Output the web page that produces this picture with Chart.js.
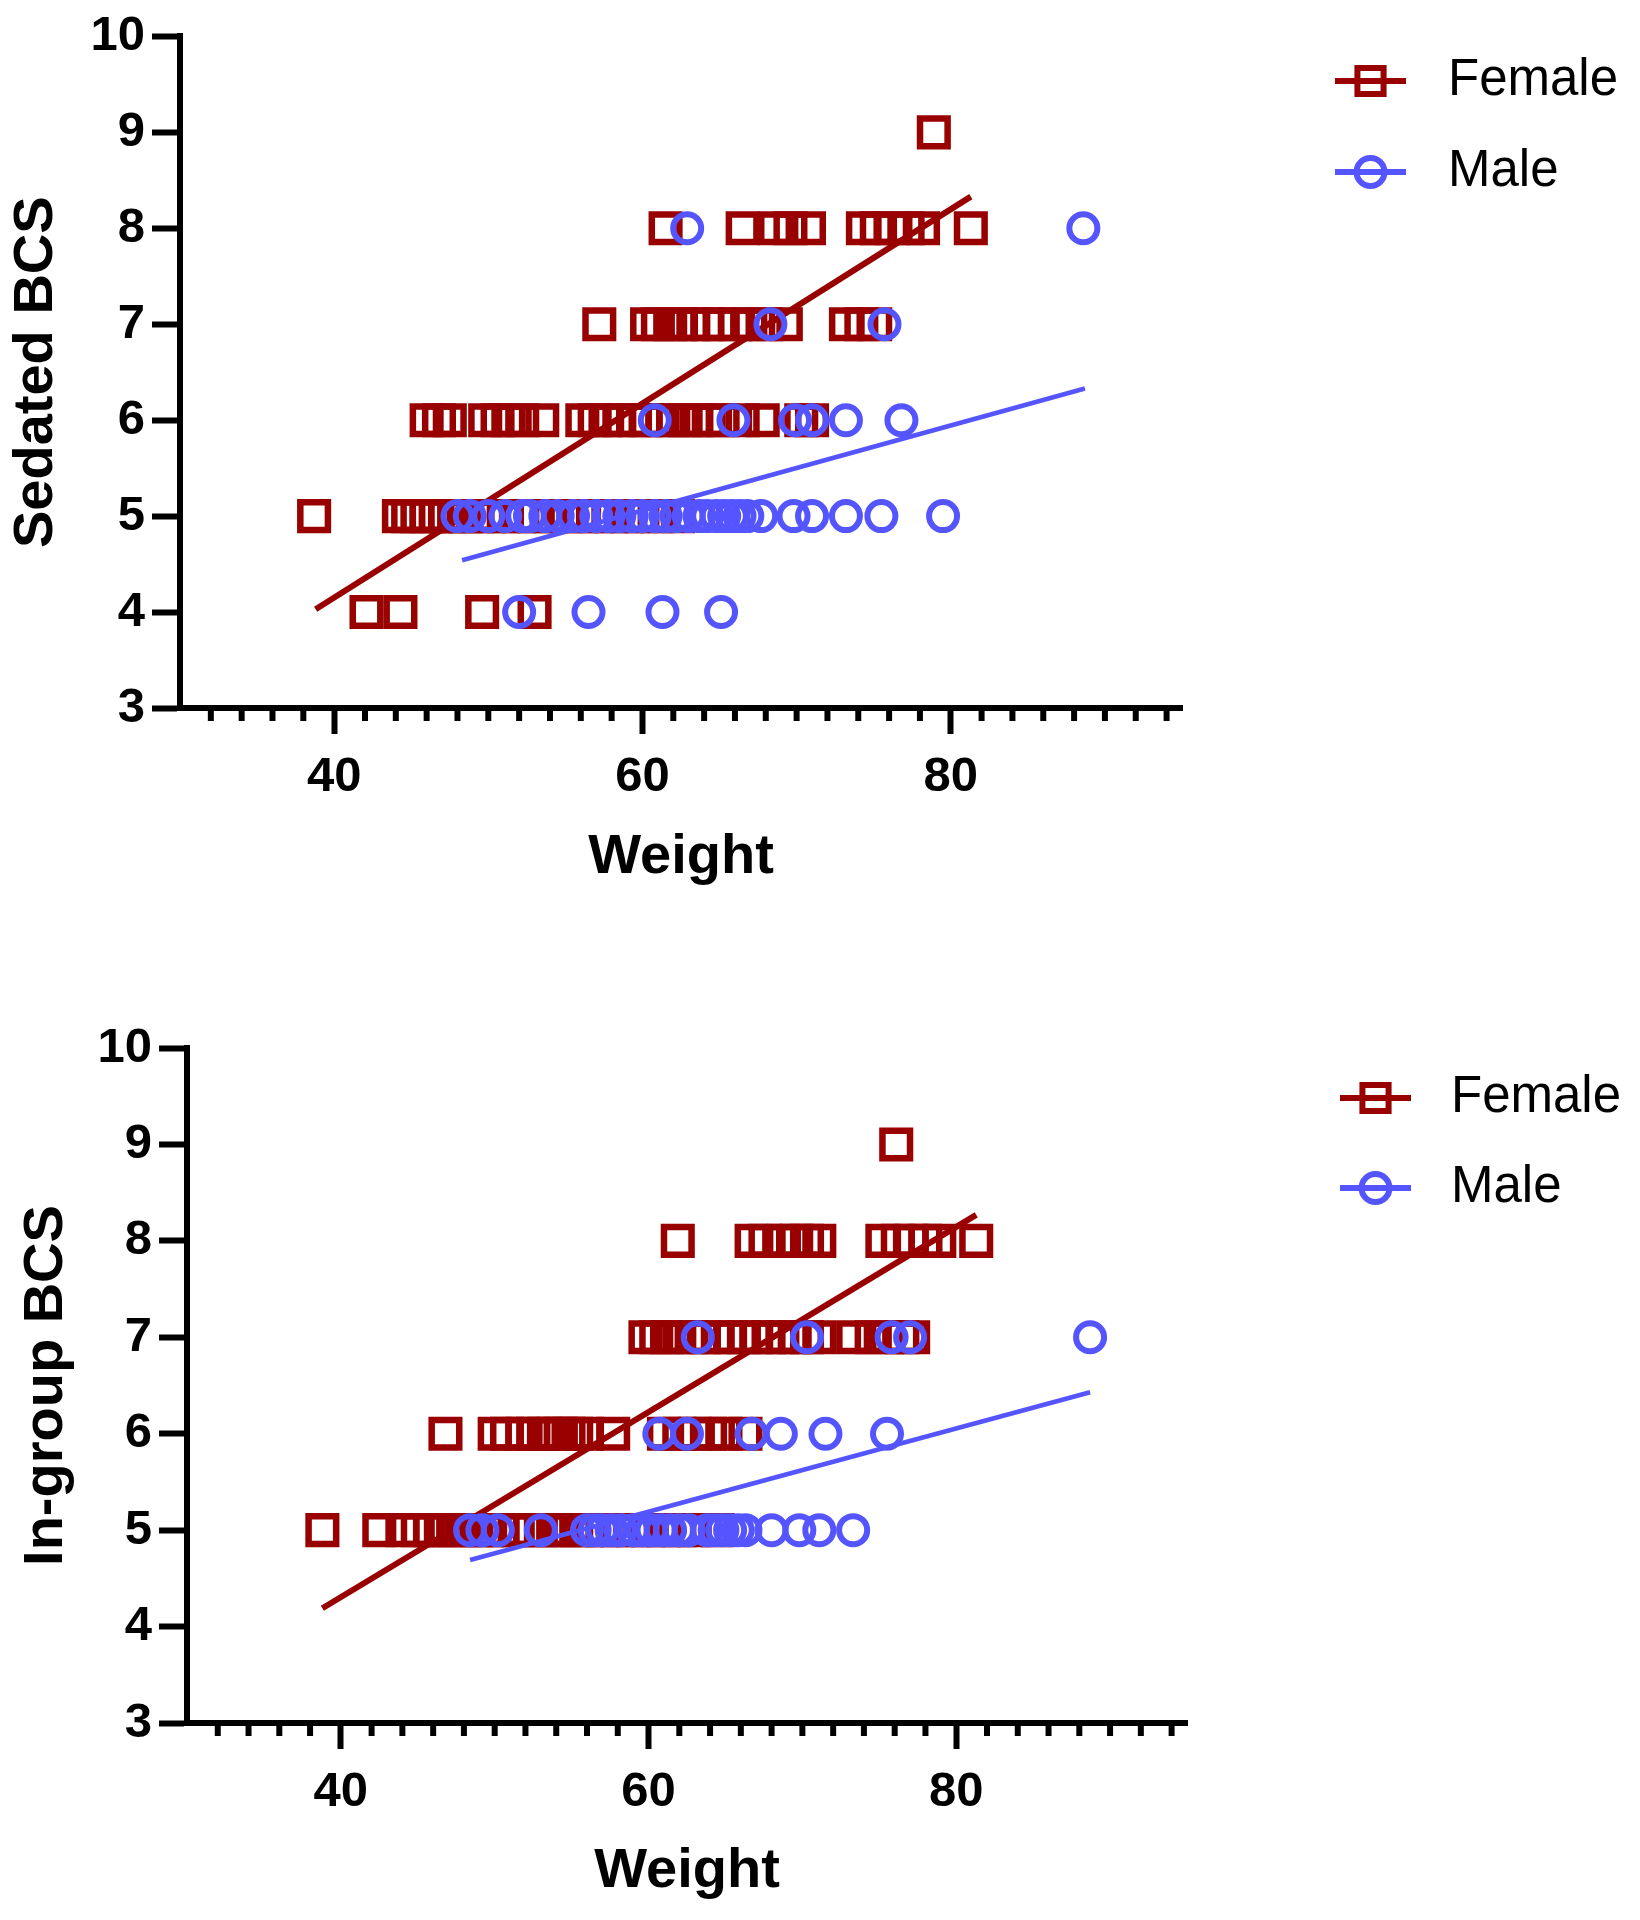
<!DOCTYPE html>
<html>
<head>
<meta charset="utf-8">
<script src="https://cdn.jsdelivr.net/npm/chart.js@4.4.1/dist/chart.umd.min.js"></script>
<style>
  html, body { margin: 0; padding: 0; background: #fff; }
  .panel { width: 1640px; height: 960px; }
</style>
</head>
<body>
<div class="panel"><canvas id="sedated" width="1640" height="960"></canvas></div>
<div class="panel"><canvas id="ingroup" width="1640" height="960"></canvas></div>
<script>
// BCS rows, one weight list per score
const bcsLevels = [4, 5, 6, 7, 8, 9];

const sedatedFemale = [
  [42.1, 44.3, 49.6, 53.0],
  [38.7, 44.2, 44.8, 45.4, 46.0, 46.6, 47.2, 47.8, 48.5, 49.3, 50.0, 51.0, 52.0, 53.0, 54.0, 55.0, 56.0, 57.0, 58.0, 59.0, 60.0, 61.0, 62.3],
  [46.0, 46.8, 47.5, 49.8, 50.6, 51.3, 52.2, 53.5, 56.1, 56.9, 57.6, 58.5, 59.5, 60.2, 61.3, 62.0, 62.8, 63.5, 64.3, 65.2, 66.5, 67.8, 70.3, 71.0],
  [57.2, 60.3, 61.0, 61.8, 62.5, 63.3, 64.2, 65.0, 66.0, 67.0, 68.0, 69.3, 73.2, 74.2, 75.1],
  [61.5, 66.5, 68.6, 69.6, 70.8, 74.3, 75.2, 76.2, 77.2, 78.2, 81.3],
  [78.9]
];
const sedatedMale = [
  [52.0, 56.5, 61.3, 65.1],
  [48.0, 48.8, 50.0, 51.1, 52.2, 52.7, 53.7, 54.5, 55.5, 56.2, 57.0, 57.8, 58.5, 59.3, 60.0, 60.8, 61.5, 62.2, 63.0, 63.7, 64.2, 64.8, 65.3, 65.8, 66.3, 66.8, 67.7, 69.8, 71.0, 73.2, 75.5, 79.5],
  [60.8, 65.9, 69.9, 71.0, 73.2, 76.8],
  [68.3, 75.7],
  [62.9, 88.6],
  []
];
const ingroupFemale = [
  [],
  [38.8, 42.5, 44.0, 45.0, 45.8, 46.5, 47.3, 48.0, 48.8, 49.5, 50.5, 51.5, 52.3, 53.0, 53.8, 54.5, 55.3, 56.0, 57.0, 58.0, 59.0, 60.0, 61.0, 62.0, 63.0, 64.5],
  [46.8, 50.0, 50.8, 51.8, 52.5, 53.2, 53.8, 54.3, 54.8, 55.3, 56.0, 57.7, 61.0, 62.0, 63.0, 64.0, 65.0, 66.3],
  [59.8, 60.5, 61.2, 62.0, 62.8, 63.6, 64.5, 65.3, 66.2, 67.0, 67.8, 68.7, 69.5, 70.3, 71.1, 73.3, 74.5, 75.5, 76.5, 77.2],
  [61.9, 66.7, 67.6, 68.8, 69.6, 70.3, 71.1, 75.2, 76.2, 77.1, 78.0, 78.9, 81.3],
  [76.1]
];
const ingroupMale = [
  [],
  [48.4, 49.2, 50.2, 53.0, 56.0, 56.5, 57.0, 57.6, 58.2, 59.0, 59.6, 60.2, 60.8, 61.4, 62.0, 62.6, 63.8, 64.3, 64.8, 65.3, 65.8, 66.3, 68.0, 69.8, 71.1, 73.3],
  [60.7, 62.5, 66.7, 68.6, 71.5, 75.5],
  [63.2, 70.3, 75.8, 77.0, 88.7],
  [],
  []
];

// regression lines, [weight, bcs] at each end
const sedatedFemaleFit = [[38.8, 4.03], [81.3, 8.33]];
const sedatedMaleFit = [[48.3, 4.54], [88.7, 6.33]];
const ingroupFemaleFit = [[38.8, 4.19], [81.3, 8.27]];
const ingroupMaleFit = [[48.4, 4.69], [88.7, 6.43]];

const seriesNames = ['Female', 'Male'];
const xMajorTicks = [40, 60, 80];
const xMinorTicks = [32, 34, 36, 38, 42, 44, 46, 48, 50, 52, 54, 56, 58, 62, 64, 66, 68, 70, 72, 74, 76, 78, 82, 84, 86, 88, 90, 92, 94];

const femaleColor = '#990000';
const maleColor = '#5555ff';
const fontFamily = '"Liberation Sans", Arial, sans-serif';

Chart.defaults.font.family = fontFamily;
Chart.defaults.color = '#000';

function pointsFrom(rows) {
  const pts = [];
  rows.forEach((row, i) => row.forEach(w => pts.push({x: w, y: bcsLevels[i]})));
  return pts;
}
function lineFrom(fit) {
  return fit.map(p => ({x: p[0], y: p[1]}));
}

// short minor ticks on the weight axis
const minorTicks = {
  id: 'minorTicks',
  afterDraw(chart, args, opts) {
    const xs = chart.scales.x;
    const ctx = chart.ctx;
    ctx.save();
    ctx.strokeStyle = '#000';
    ctx.lineWidth = 6;
    opts.values.forEach(v => {
      const px = xs.getPixelForValue(v);
      ctx.beginPath();
      ctx.moveTo(px, xs.top);
      ctx.lineTo(px, xs.top + opts.length);
      ctx.stroke();
    });
    ctx.restore();
  }
};

// legend drawn as line + marker, like the original
const sideLegend = {
  id: 'sideLegend',
  afterDraw(chart, args, opts) {
    const ctx = chart.ctx;
    ctx.save();
    opts.items.forEach((it, i) => {
      const y = opts.y + i * opts.gap;
      ctx.strokeStyle = it.color;
      ctx.fillStyle = 'rgba(0,0,0,0)';
      ctx.lineWidth = 6;
      ctx.beginPath();
      ctx.moveTo(opts.x, y);
      ctx.lineTo(opts.x + opts.len, y);
      ctx.stroke();
      Chart.helpers.drawPoint(ctx, {pointStyle: it.style, radius: it.radius, borderWidth: 6, rotation: 0}, opts.x + opts.len / 2, y);
      ctx.fillStyle = '#000';
      ctx.font = '51px ' + fontFamily;
      ctx.textBaseline = 'middle';
      ctx.textAlign = 'left';
      ctx.fillText(it.label, opts.textX, y);
    });
    ctx.restore();
  }
};

function buildChart(id, yTitle, female, male, femaleFit, maleFit, frame) {
  new Chart(document.getElementById(id), {
    type: 'scatter',
    data: {
      datasets: [
        {label: seriesNames[1] + ' fit', data: lineFrom(maleFit), showLine: true, pointRadius: 0,
         borderColor: maleColor, borderWidth: 4.5, order: 0},
        {label: seriesNames[1], data: pointsFrom(male), pointStyle: 'circle', pointRadius: 14,
         pointBorderWidth: 6, pointBorderColor: maleColor, pointBackgroundColor: 'rgba(0,0,0,0)', order: 1},
        {label: seriesNames[0] + ' fit', data: lineFrom(femaleFit), showLine: true, pointRadius: 0,
         borderColor: femaleColor, borderWidth: 6, order: 2},
        {label: seriesNames[0], data: pointsFrom(female), pointStyle: 'rect', pointRadius: 19.5,
         pointBorderWidth: 6.5, pointBorderColor: femaleColor, pointBackgroundColor: 'rgba(0,0,0,0)', order: 3}
      ]
    },
    options: {
      responsive: false,
      animation: false,
      events: [],
      layout: {padding: {left: 0, top: frame.top, right: frame.right, bottom: 0}},
      plugins: {
        legend: {display: false},
        tooltip: {enabled: false},
        minorTicks: {values: xMinorTicks, length: 13},
        sideLegend: {
          x: frame.legendX, y: frame.legendY, gap: frame.legendGap, len: 71, textX: frame.textX,
          items: [
            {label: seriesNames[0], color: femaleColor, style: 'rect', radius: 18.5},
            {label: seriesNames[1], color: maleColor, style: 'circle', radius: 14}
          ]
        }
      },
      scales: {
        x: {
          type: 'linear', min: 30, max: 95,
          afterBuildTicks: s => { s.ticks = xMajorTicks.map(v => ({value: v})); },
          afterFit: s => { s.height = frame.axisH; },
          grid: {drawOnChartArea: false, tickLength: 26, tickWidth: 6, tickColor: '#000'},
          border: {color: '#000', width: 6},
          ticks: {font: {size: 49, weight: 'bold'}, padding: 14, maxRotation: 0},
          title: {display: true, text: 'Weight', font: {size: 56, weight: 'bold'},
                  padding: {top: 0, bottom: frame.xTitlePad}}
        },
        y: {
          type: 'linear', min: 3, max: 10,
          afterFit: s => { s.width = frame.axisW; },
          grid: {drawOnChartArea: false, tickLength: 28, tickWidth: 6, tickColor: '#000'},
          border: {color: '#000', width: 6},
          ticks: {stepSize: 1, font: {size: 49, weight: 'bold'}, padding: 7},
          title: {display: true, text: yTitle, font: {size: 56, weight: 'bold'},
                  padding: {top: frame.yTitlePad, bottom: 0}}
        }
      }
    },
    plugins: [minorTicks, sideLegend]
  });
}

buildChart('sedated', 'Sedated BCS', sedatedFemale, sedatedMale, sedatedFemaleFit, sedatedMaleFit,
  {top: 32, right: 458, axisW: 180, axisH: 252, yTitlePad: 3, xTitlePad: 69,
   legendX: 1335, legendY: 81, legendGap: 91, textX: 1448});
buildChart('ingroup', 'In-group BCS', ingroupFemale, ingroupMale, ingroupFemaleFit, ingroupMaleFit,
  {top: 88, right: 453, axisW: 187, axisH: 197, yTitlePad: 13, xTitlePad: 15,
   legendX: 1340, legendY: 138, legendGap: 90, textX: 1451});
</script>
</body>
</html>
